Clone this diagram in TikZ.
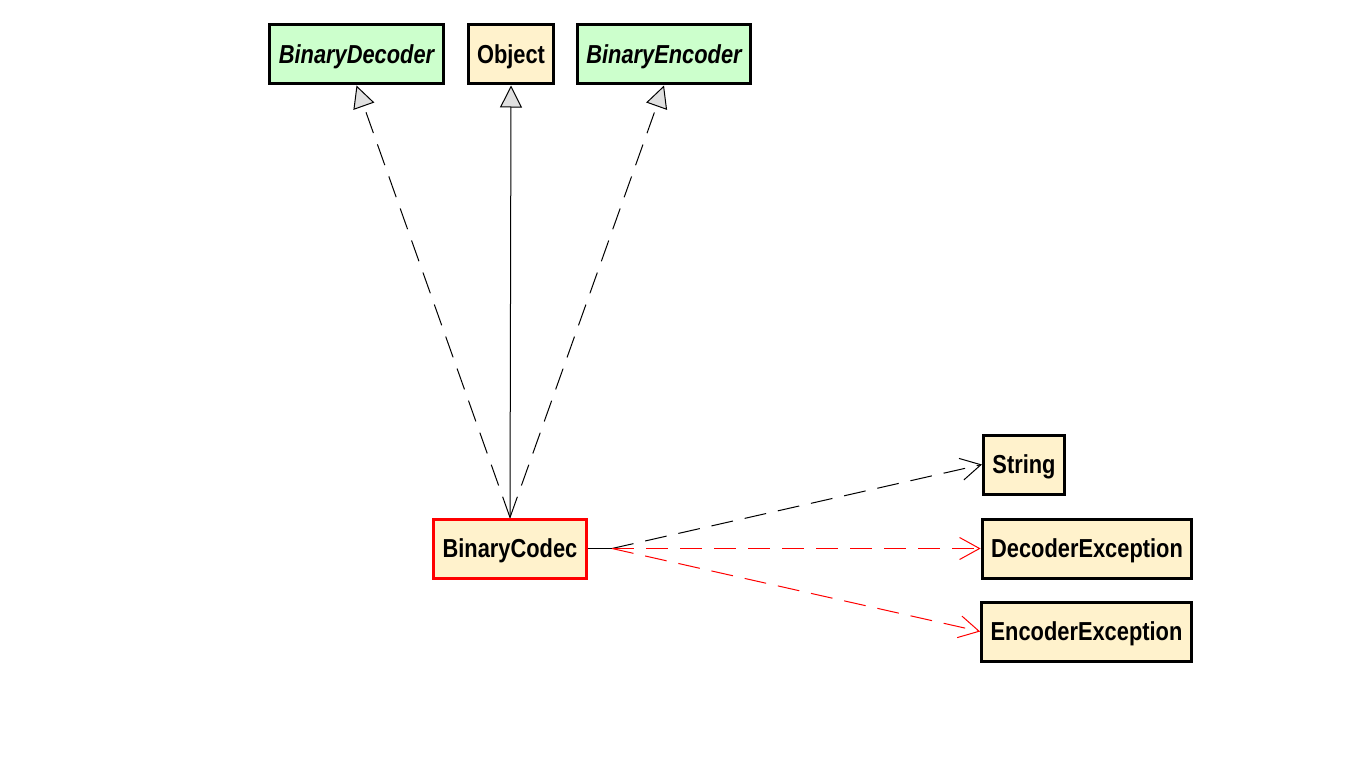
\documentclass[tikz,border=0pt]{standalone}
\usepackage{fontspec}
\setmainfont{Liberation Sans}[FakeStretch=0.84]
\usetikzlibrary{arrows.meta}
\definecolor{ifgreen}{RGB}{204,255,204}
\definecolor{clbeige}{RGB}{255,242,204}
\definecolor{depred}{RGB}{255,0,0}
\tikzset{
  umlbox/.style={draw=black,line width=3pt,fill=clbeige,inner xsep=9pt,minimum height=59pt,
    text height=18.5pt,text depth=0pt,font=\fontsize{26}{31}\selectfont\bfseries},
  iface/.style={umlbox,fill=ifgreen,font=\fontsize{26}{31}\selectfont\bfseries\itshape},
  realize/.style={line width=1pt,dash pattern=on 22pt off 12pt,
    -{Triangle[length=22pt,width=22pt,fill=black!12]}},
  inherit/.style={line width=1pt,-{Triangle[length=22pt,width=22pt,fill=black!12]}},
  depend/.style={line width=1pt,dash pattern=on 22pt off 12pt,
    -{Straight Barb[length=20pt,width=22pt]}}
}

\begin{document}
\begin{tikzpicture}[x=1pt,y=-1pt]
  \useasboundingbox (0,0) rectangle (1366,768);
  % top row
  \node[iface]  (dec) at (356.5,54.5) {BinaryDecoder};
  \node[umlbox] (obj) at (511,54.5)   {Object};
  \node[iface]  (enc) at (664,54.5)   {BinaryEncoder};
  % the codec
  \node[umlbox,draw=depred] (codec) at (510,548.5) {BinaryCodec};
  % used types
  \node[umlbox] (str) at (1024,464.5)   {String};
  \node[umlbox] (dex) at (1087,548.5)   {DecoderException};
  \node[umlbox] (eex) at (1086.5,631.5) {EncoderException};
  \coordinate (hub) at (612,548.5);

  \draw[realize] (codec.north) -- (dec.south);
  \draw[inherit] (codec.north) -- (obj.south);
  \draw[realize] (codec.north) -- (enc.south);

  \draw[line width=1pt] (codec.east) -- (hub);
  \draw[depend] (hub) -- (str.west);
  \draw[depend,depred] (hub) -- (dex.west);
  \draw[depend,depred] (hub) -- (eex.west);
\end{tikzpicture}
\end{document}
